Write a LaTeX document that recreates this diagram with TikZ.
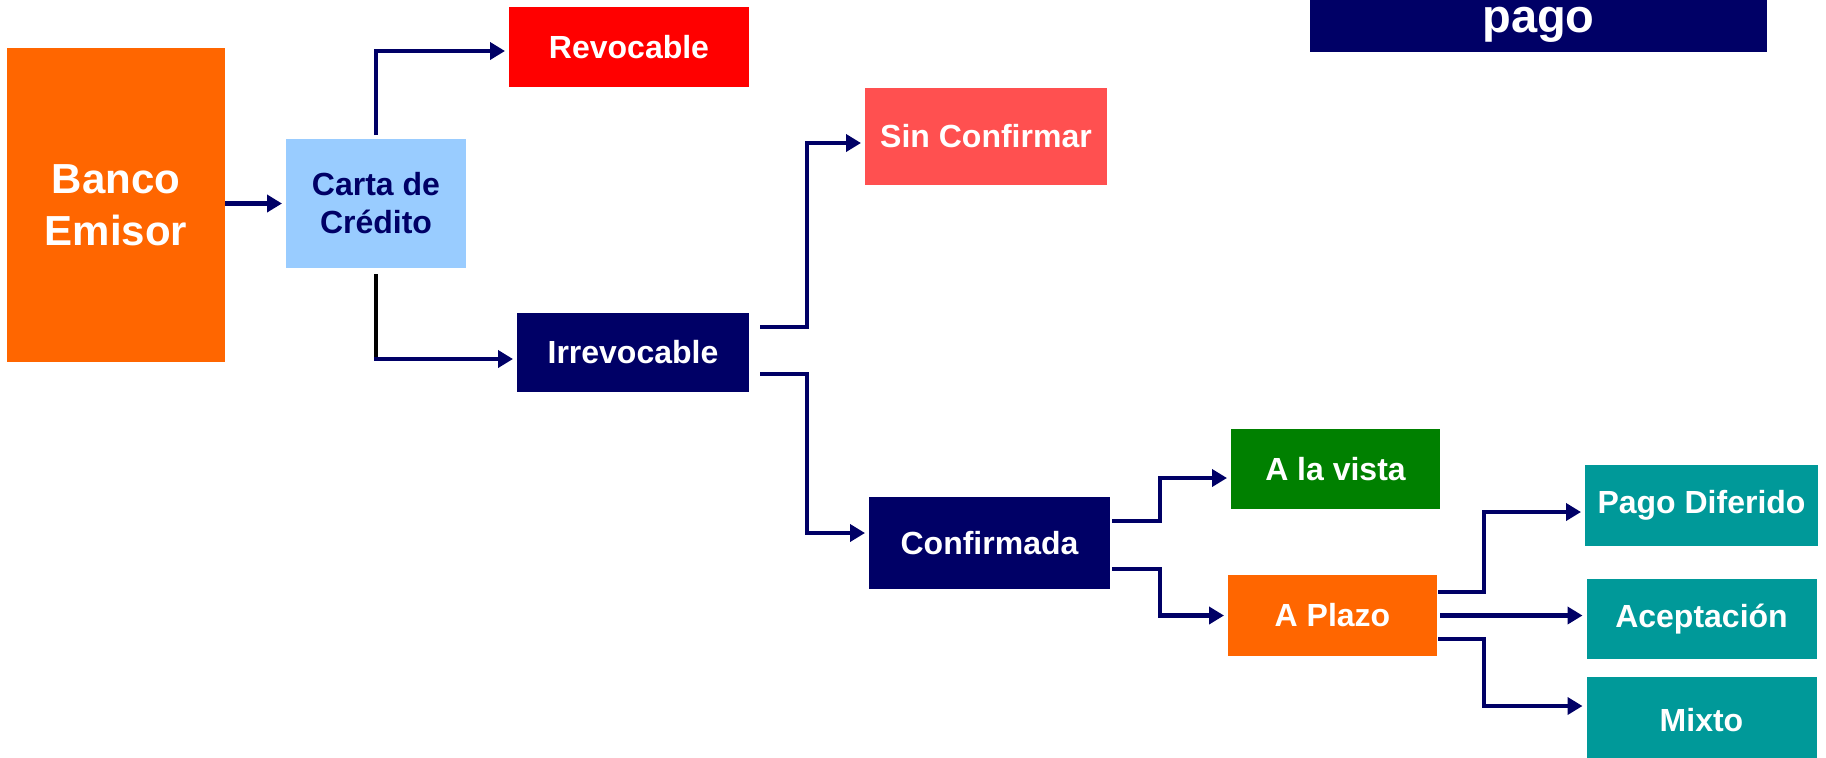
\documentclass[tikz,border=0pt]{standalone}
\usepackage{fontspec}
\setmainfont{Liberation Sans}
\usetikzlibrary{arrows.meta,positioning}

\definecolor{navy}{HTML}{000066}
\definecolor{naranja}{HTML}{FF6600}
\definecolor{celeste}{HTML}{99CCFF}
\definecolor{rojo}{HTML}{FF0000}
\definecolor{salmon}{HTML}{FF5050}
\definecolor{verde}{HTML}{008000}
\definecolor{turquesa}{HTML}{009999}

\begin{document}
\begin{tikzpicture}[x=0.5pt,y=-0.5pt,>={Triangle[length=7.5pt,width=8.5pt]},%
    line width=2.2pt,
    tile/.style={rectangle,inner sep=0pt,outer sep=0pt,align=center,text=white,
      font=\bfseries\fontsize{16}{19}\selectfont},
    link/.style={->,draw=navy,shorten >=2pt}]

    \useasboundingbox (0,0) rectangle (1826,757);

    \node[tile,fill=naranja,minimum width=109pt,minimum height=157pt,
      font=\bfseries\fontsize{21}{26}\selectfont] (banco) at (116,205) {Banco\\Emisor};
    \node[tile,fill=celeste,text=navy,minimum width=90pt,minimum height=64.5pt]
      (carta) at (376,203.5) {Carta de\\Crédito};
    \node[tile,fill=rojo,minimum width=120pt,minimum height=40pt] (revoc) at (629,47) {Revocable};
    \node[tile,fill=navy,minimum width=116pt,minimum height=39.5pt] (irrev) at (633,352.5) {Irrevocable};
    \node[tile,fill=salmon,minimum width=121pt,minimum height=48.5pt] (sinconf) at (986,136.5) {Sin Confirmar};
    \node[tile,fill=navy,minimum width=120.5pt,minimum height=46pt] (confir) at (989.5,543) {Confirmada};
    \node[tile,fill=verde,minimum width=104.5pt,minimum height=40pt] (vista) at (1335.5,469) {A la vista};
    \node[tile,fill=naranja,minimum width=104.5pt,minimum height=40.5pt] (plazo) at (1332.5,615.5) {A Plazo};
    \node[tile,fill=turquesa,minimum width=116.5pt,minimum height=40.5pt] (difer) at (1701.5,505.5) {Pago Diferido};
    \node[tile,fill=turquesa,minimum width=115pt,minimum height=40pt] (acept) [below=16.5pt of difer] {Aceptación};
    \node[tile,fill=turquesa,minimum width=115pt,minimum height=43pt] (mixto) [below=9pt of acept] {Mixto};

    % title bar, cut at the top
    \node[fill=navy,inner sep=0pt,minimum width=228.5pt,minimum height=31pt] (barra) at (1538.5,21) {};
    \node[anchor=base,text=white,font=\bfseries\fontsize{23.5}{28}\selectfont] (pago) at (1538.5,32) {pago};

    \draw[link] (banco.east |- carta.west) -- (carta.west);
    \draw[link] ([yshift=2pt]carta.north) |- ([yshift=-2pt]revoc.west);
    \draw[black] ([yshift=-3pt]carta.south) -- ([yshift=-4.35pt]carta.south |- irrev.west);
    \draw[link,shorten <=-1.1pt] ([yshift=-3.25pt]carta.south |- irrev.west) -- ([yshift=-3.25pt]irrev.west);

    \draw[link] ([shift={(5.5pt,12.75pt)}]irrev.east) -- ++(23.5pt,0) |- ([yshift=-3.25pt]sinconf.west);
    \draw[link] ([shift={(5.5pt,-10.75pt)}]irrev.east) -- ++(23.5pt,0) |- ([yshift=5pt]confir.west);

    \draw[link] ([shift={(1pt,11pt)}]confir.east) -- ++(24pt,0) |- ([yshift=-4.5pt]vista.west);
    \draw[link] ([shift={(1pt,-13pt)}]confir.east) -- ++(24pt,0) |- (plazo.west);

    \draw[link] ([shift={(0.5pt,11.75pt)}]plazo.east) -- ++(23pt,0) |- ([yshift=-3.25pt]difer.west);
    \draw[link] ([xshift=1.5pt]plazo.east) -- (plazo.east -| acept.west);
    \draw[link] ([shift={(0.5pt,-11.75pt)}]plazo.east) -- ++(23pt,0) |- ([yshift=7pt]mixto.west);
\end{tikzpicture}
\end{document}
